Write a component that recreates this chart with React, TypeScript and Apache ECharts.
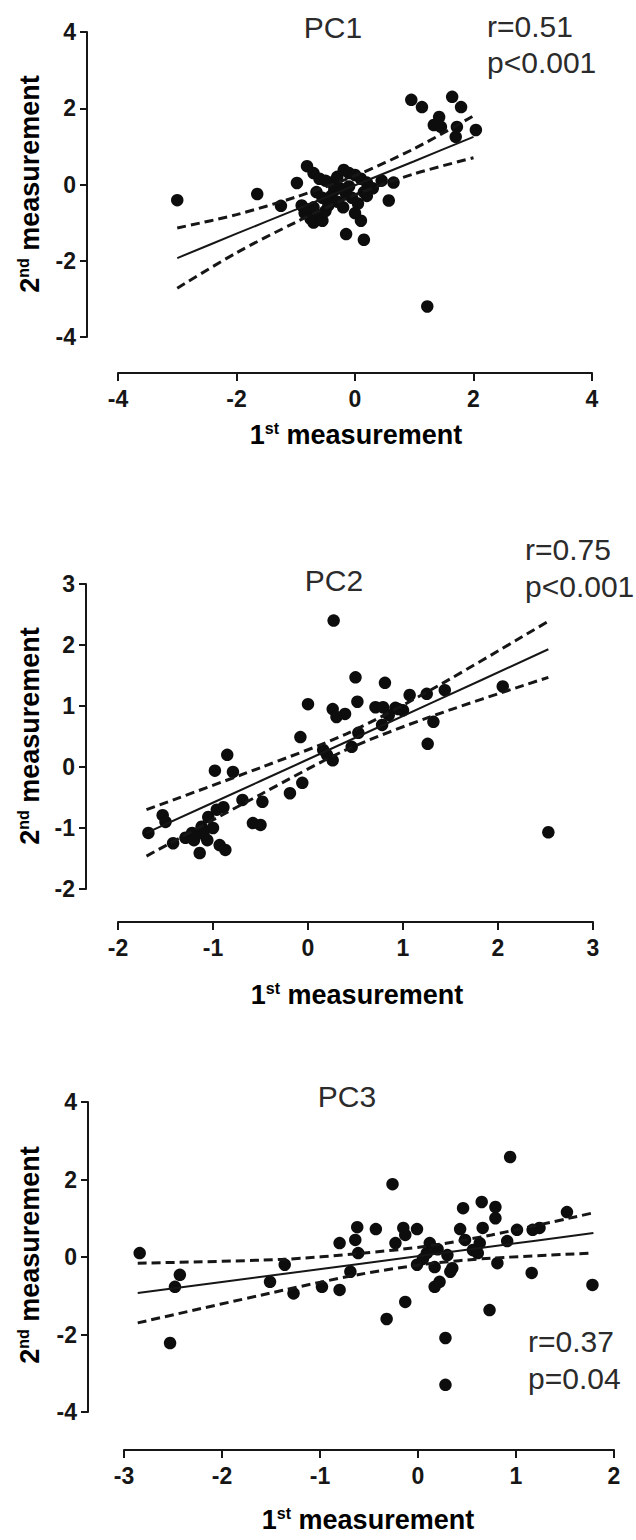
import React, { useEffect, useRef } from "react";
import * as echarts from "echarts";

// ---------- Data ----------
const panelTitles = ["PC1", "PC2", "PC3"];
const statLines = [
  ["r=0.51", "p<0.001"],
  ["r=0.75", "p<0.001"],
  ["r=0.37", "p=0.04"],
];

// axis ranges: [min, max, interval]
const pc1XRange = [-4, 4, 2];
const pc1YRange = [-4, 4, 2];
const pc2XRange = [-2, 3, 1];
const pc2YRange = [-2, 3, 1];
const pc3XRange = [-3, 2, 1];
const pc3YRange = [-4, 4, 2];

// scatter points [1st, 2nd]
const pc1Points = [
  [0.95, 2.22], [1.13, 2.03], [1.64, 2.3], [1.79, 2.03], [1.42, 1.77], [1.33, 1.56], [1.45, 1.51],
  [1.72, 1.51], [2.04, 1.43], [1.7, 1.25],
  [-3.0, -0.41], [-1.65, -0.25], [1.22, -3.2], [-1.25, -0.56],
  [-0.98, 0.04], [-0.81, 0.48], [-0.7, 0.3], [-0.6, 0.15], [-0.5, 0.1], [-0.4, 0.05], [-0.3, 0.2],
  [-0.19, 0.38], [-0.1, 0.3], [0.0, 0.25], [0.1, 0.15], [0.2, 0.05], [0.45, 0.1], [0.65, 0.05],
  [0.57, -0.42],
  [-0.9, -0.55], [-0.85, -0.75], [-0.8, -0.65], [-0.75, -0.9], [-0.7, -1.0], [-0.6, -0.85],
  [-0.55, -0.95], [-0.5, -0.7], [-0.45, -0.55], [-0.4, -0.3], [-0.35, -0.15], [-0.3, -0.45],
  [-0.25, -0.1], [-0.2, -0.6], [-0.15, -0.25], [-0.1, -0.05], [-0.05, -0.35], [0.0, -0.75],
  [0.05, -0.5], [0.1, -0.95], [0.15, -0.2], [0.2, -0.3], [-0.15, -1.3], [0.15, -1.45],
  [-0.65, -0.2], [-0.55, -0.35], [-0.7, -0.6], [0.3, -0.1],
];
const pc2Points = [
  [0.27, 2.4], [0.5, 1.47], [0.81, 1.38], [0.0, 1.03], [0.52, 1.07], [0.26, 0.95], [0.39, 0.87],
  [0.3, 0.82], [0.71, 0.98], [0.79, 0.98], [0.92, 0.97], [1.0, 0.93], [1.07, 1.18], [1.25, 1.2],
  [1.44, 1.26], [2.05, 1.32], [1.32, 0.74], [1.26, 0.38], [-0.08, 0.49], [0.78, 0.69], [0.53, 0.56],
  [0.16, 0.28], [0.46, 0.33], [0.26, 0.11], [0.2, 0.2], [0.85, 0.85], [0.95, 0.95], [2.53, -1.07],
  [-0.85, 0.2], [-0.98, -0.06], [-0.79, -0.08], [-0.19, -0.43], [-0.06, -0.26], [-0.48, -0.57],
  [-0.69, -0.54], [-0.89, -0.66], [-0.58, -0.92], [-0.5, -0.95], [-1.53, -0.79], [-1.5, -0.9],
  [-1.68, -1.08], [-1.42, -1.25], [-1.29, -1.16], [-1.22, -1.08], [-1.12, -0.98], [-1.05, -0.82],
  [-0.96, -0.7], [-1.14, -1.41], [-1.06, -1.2], [-0.93, -1.28], [-0.87, -1.36], [-1.0, -1.0],
  [-1.1, -1.1], [-1.2, -1.2],
];
const pc3Points = [
  [0.94, 2.58], [-0.26, 1.88], [0.46, 1.26], [0.65, 1.42], [0.79, 1.29], [0.79, 1.0], [1.52, 1.16],
  [-0.62, 0.77], [-0.43, 0.72], [-0.15, 0.75], [-0.01, 0.72], [0.43, 0.72], [0.66, 0.75], [1.01, 0.7],
  [1.17, 0.7], [1.24, 0.75], [-0.64, 0.44], [-0.8, 0.36], [-0.23, 0.36], [-0.13, 0.57], [0.12, 0.36],
  [0.48, 0.44], [0.63, 0.36], [0.91, 0.41], [-2.84, 0.1], [-0.61, 0.1], [0.09, 0.1], [0.3, 0.05],
  [0.56, 0.18], [0.61, 0.1], [-1.36, -0.2], [-0.01, -0.2], [0.17, -0.26], [0.35, -0.29], [0.81, -0.16],
  [-2.43, -0.46], [-0.69, -0.38], [1.16, -0.41], [-2.48, -0.77], [-1.51, -0.64], [-1.27, -0.94],
  [-0.98, -0.77], [-0.8, -0.85], [0.17, -0.77], [0.22, -0.64], [0.33, -0.38], [1.78, -0.72],
  [-0.13, -1.16], [-0.32, -1.6], [0.73, -1.37], [-2.53, -2.22], [0.28, -2.09], [0.28, -3.3],
  [0.2, 0.2], [0.05, -0.05],
];

// regression line and 95% bands, sampled at x positions
const pc1LineX = [-3, -2, -1, 0, 1, 2];
const pc1Fit = [-1.93, -1.29, -0.66, -0.02, 0.61, 1.25];
const pc1Upper = [-1.14, -0.79, -0.33, 0.23, 0.94, 1.8];
const pc1Lower = [-2.72, -1.79, -0.99, -0.27, 0.28, 0.7];

const pc2LineX = [-1.7, -0.5, 0.4, 1.3, 2.53];
const pc2Fit = [-1.08, -0.23, 0.41, 1.05, 1.93];
const pc2Upper = [-0.7, -0.01, 0.54, 1.27, 2.39];
const pc2Lower = [-1.46, -0.45, 0.28, 0.83, 1.47];

const pc3LineX = [-2.86, -1.38, -0.6, 0.09, 0.75, 1.79];
const pc3Fit = [-0.93, -0.44, -0.18, 0.05, 0.27, 0.62];
const pc3Upper = [-0.16, -0.06, 0.09, 0.28, 0.57, 1.14];
const pc3Lower = [-1.7, -0.86, -0.45, -0.18, -0.03, 0.1];

// ---------- Styling ----------
const FONT = "'Liberation Sans', Arial, Helvetica, sans-serif";
const INK = "#161616";
const TEXT = "#2b2b2b";

const grids = [
  { left: 118, top: 32, width: 474, height: 305 },
  { left: 118, top: 584, width: 475, height: 305 },
  { left: 124, top: 1102, width: 490, height: 310 },
];
const yOffsets = [31, 32, 36];
const xOffsets = [36, 33, 38];

function makeXAxis(gridIndex: number, range: number[]) {
  return {
    type: "value",
    gridIndex,
    min: range[0],
    max: range[1],
    interval: range[2],
    position: "bottom",
    offset: xOffsets[gridIndex],
    axisLine: { show: true, onZero: false, lineStyle: { color: INK, width: 2 } },
    axisTick: { show: true, inside: false, length: 8, lineStyle: { color: INK, width: 2 } },
    axisLabel: { color: INK, fontSize: 23, fontWeight: "bold", fontFamily: FONT, margin: 14 },
    splitLine: { show: false },
  };
}
function makeYAxis(gridIndex: number, range: number[]) {
  return {
    type: "value",
    gridIndex,
    min: range[0],
    max: range[1],
    interval: range[2],
    position: "left",
    offset: yOffsets[gridIndex],
    axisLine: { show: true, onZero: false, lineStyle: { color: INK, width: 2 } },
    axisTick: { show: true, inside: false, length: 7, lineStyle: { color: INK, width: 2 } },
    axisLabel: { color: INK, fontSize: 23, fontWeight: "bold", fontFamily: FONT, margin: 11 },
    splitLine: { show: false },
  };
}

function zip(xs: number[], ys: number[]) {
  return xs.map((x, i) => [x, ys[i]]);
}

function panelSeries(idx: number, pts: number[][], lx: number[], fit: number[], up: number[], lo: number[]) {
  const base = { xAxisIndex: idx, yAxisIndex: idx, silent: true };
  const lineCommon = {
    ...base,
    type: "line",
    showSymbol: false,
    symbol: "none",
    smooth: 0.3,
    z: 3,
  };
  return [
    {
      ...base,
      type: "scatter",
      data: pts,
      symbol: "circle",
      symbolSize: 12.5,
      itemStyle: { color: "#0d0d0d", opacity: 1 },
      z: 2,
    },
    { ...lineCommon, data: zip(lx, fit), lineStyle: { color: INK, width: 2, type: "solid" } },
    { ...lineCommon, data: zip(lx, up), lineStyle: { color: INK, width: 3, type: [9, 5] } },
    { ...lineCommon, data: zip(lx, lo), lineStyle: { color: INK, width: 3, type: [9, 5] } },
  ];
}

const axisNameRich = {
  a: { fontSize: 27, fontWeight: "bold", fontFamily: FONT, color: INK, lineHeight: 30 },
  s: { fontSize: 16, fontWeight: "bold", fontFamily: FONT, color: INK, lineHeight: 16, verticalAlign: "top" },
};

function xName(x: number, y: number) {
  return {
    type: "text",
    x,
    y,
    style: {
      text: "{a|1}{s|st}{a| measurement}",
      rich: axisNameRich,
      align: "center",
      verticalAlign: "middle",
    },
  };
}
function yName(x: number, y: number) {
  return {
    type: "text",
    x,
    y,
    rotation: Math.PI / 2,
    style: {
      text: "{a|2}{s|nd}{a| measurement}",
      rich: axisNameRich,
      align: "center",
      verticalAlign: "middle",
    },
  };
}
function plainText(text: string, x: number, y: number, align: string) {
  return {
    type: "text",
    x,
    y,
    style: {
      text,
      fontSize: 30,
      fontFamily: FONT,
      fill: TEXT,
      align,
      verticalAlign: "middle",
    },
  };
}

export default function App() {
  const ref = useRef<HTMLDivElement>(null);
  useEffect(() => {
    document.body.style.margin = "0";
    if (!ref.current) return;
    const chart = echarts.init(ref.current, null, { renderer: "svg" });
    chart.setOption({
      animation: false,
      backgroundColor: "#ffffff",
      grid: grids.map((g) => ({ ...g, containLabel: false })),
      xAxis: [makeXAxis(0, pc1XRange), makeXAxis(1, pc2XRange), makeXAxis(2, pc3XRange)],
      yAxis: [makeYAxis(0, pc1YRange), makeYAxis(1, pc2YRange), makeYAxis(2, pc3YRange)],
      series: [
        ...panelSeries(0, pc1Points, pc1LineX, pc1Fit, pc1Upper, pc1Lower),
        ...panelSeries(1, pc2Points, pc2LineX, pc2Fit, pc2Upper, pc2Lower),
        ...panelSeries(2, pc3Points, pc3LineX, pc3Fit, pc3Upper, pc3Lower),
      ],
      graphic: [
        plainText(panelTitles[0], 333, 27, "center"),
        plainText(statLines[0][0], 487, 26, "left"),
        plainText(statLines[0][1], 487, 62, "left"),
        xName(356, 435),
        yName(30, 184),

        plainText(panelTitles[1], 334, 580, "center"),
        plainText(statLines[1][0], 525, 549, "left"),
        plainText(statLines[1][1], 525, 586, "left"),
        xName(357, 995),
        yName(30, 736),

        plainText(panelTitles[2], 347, 1096, "center"),
        plainText(statLines[2][0], 528, 1341, "left"),
        plainText(statLines[2][1], 528, 1378, "left"),
        xName(368, 1520),
        yName(30, 1255),
      ],
    });
    return () => chart.dispose();
  }, []);
  return <div ref={ref} style={{ width: 636, height: 1540 }} />;
}
